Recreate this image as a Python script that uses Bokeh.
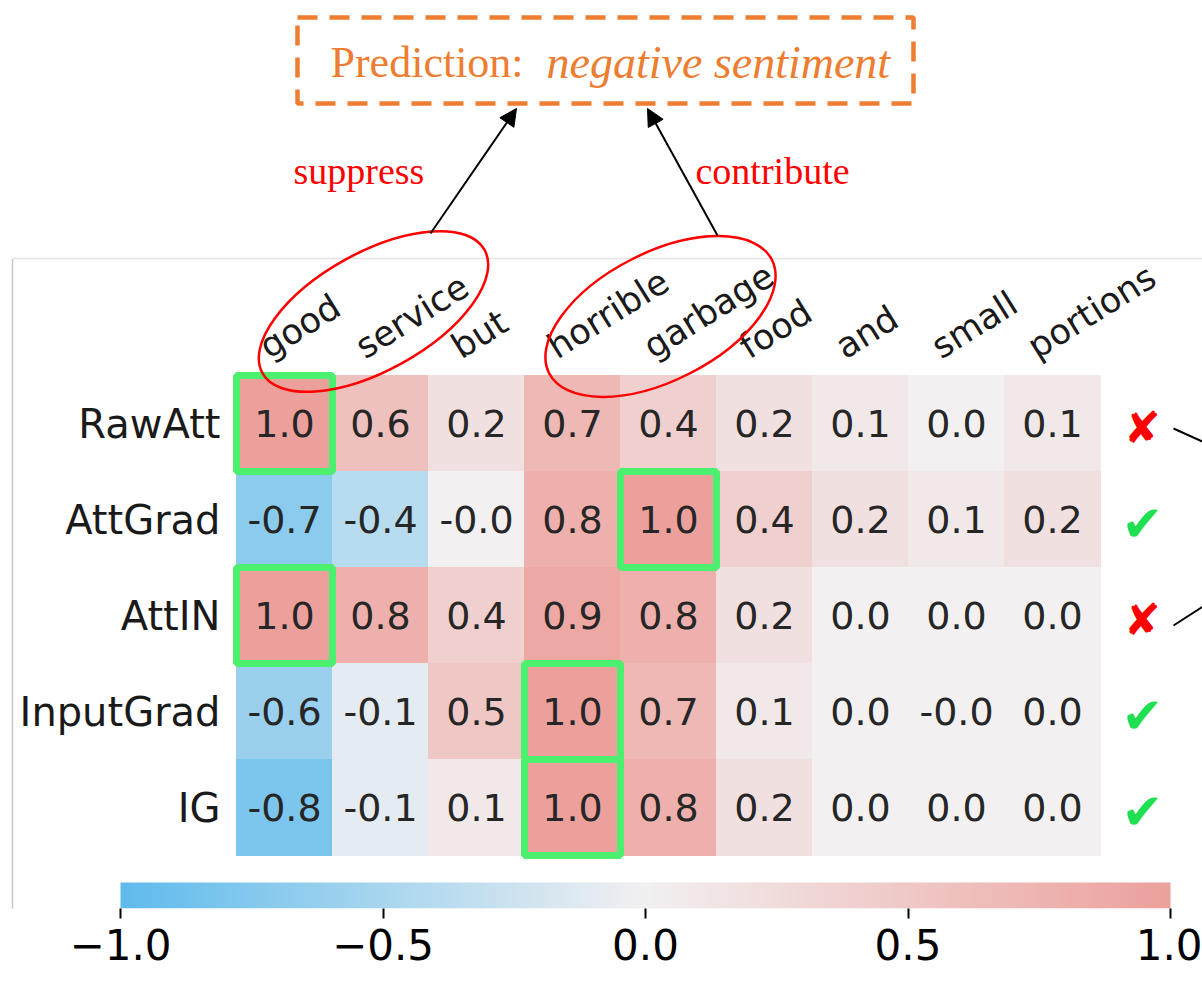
import math
import numpy as np
from bokeh.plotting import figure
from bokeh.models import (Range1d, LinearColorMapper, Arrow, NormalHead, LinearAxis,
                          FixedTicker, ColumnDataSource)
from bokeh.transform import transform
from bokeh.core.properties import value
from bokeh.embed import file_html
from bokeh.resources import INLINE

# ---------------- data ----------------
words = ["good", "service", "but", "horrible", "garbage", "food", "and", "small", "portions"]
methods = ["RawAtt", "AttGrad", "AttIN", "InputGrad", "IG"]
raw_att = [1.0, 0.6, 0.2, 0.7, 0.4, 0.2, 0.1, 0.0, 0.1]
att_grad = [-0.7, -0.4, -0.0, 0.8, 1.0, 0.4, 0.2, 0.1, 0.2]
att_in = [1.0, 0.8, 0.4, 0.9, 0.8, 0.2, 0.0, 0.0, 0.0]
input_grad = [-0.6, -0.1, 0.5, 1.0, 0.7, 0.1, 0.0, -0.0, 0.0]
ig = [-0.8, -0.1, 0.1, 1.0, 0.8, 0.2, 0.0, 0.0, 0.0]
verdicts = ["\u2718", "\u2714", "\u2718", "\u2714", "\u2714"]
cbar_ticks = [-1.0, -0.5, 0.0, 0.5, 1.0]
cbar_labels = ["\u22121.0", "\u22120.5", "0.0", "0.5", "1.0"]
pred_label = "Prediction:"
pred_value = "negative sentiment"
note_left = "suppress"
note_right = "contribute"

rows = [raw_att, att_grad, att_in, input_grad, ig]

# ---------------- colours ----------------
LOW = (95, 187, 236)
MID = (242, 240, 241)
HIGH = (236, 160, 156)


def mix(a, b, t):
    return tuple(int(round(a[i] + (b[i] - a[i]) * t)) for i in range(3))


palette = []
for k in range(256):
    v = -1 + 2 * k / 255
    c = mix(MID, LOW, -v) if v < 0 else mix(MID, HIGH, v)
    palette.append("#%02x%02x%02x" % c)
mapper = LinearColorMapper(palette=palette, low=-1, high=1)

ORANGE = "#ED7D31"
RED = "#FF0000"
GREEN_BOX = "#4CEF6E"
GREEN_MARK = "#1FE050"
FONT = "DejaVu Sans"
SERIF = "Liberation Serif"

# ---------------- layout helpers (page pixel -> data coords) ----------------
W, H = 1202, 984
FRAME_B = 908                 # bottom of the plotting frame (bottom of colour bar)
FX0, FX1 = 236, 1100          # heatmap extent in page pixels
FY0, FY1 = 375, 855
CW = (FX1 - FX0) / len(words)
CH = (FY1 - FY0) / len(methods)


def X(px):
    return (px - FX0) / CW


def Y(py):
    return (FY1 - py) / CH


CB0, CB1 = 120, 1170          # colour bar extent in page pixels
CBY0 = 882


def X2(px):
    return -1 + 2 * (px - CB0) / (CB1 - CB0)


# ---------------- figure ----------------
p = figure(width=W, height=H,
           x_range=Range1d(X(0), X(W)), y_range=Range1d(Y(FRAME_B), Y(0)),
           x_axis_location=None, y_axis_location=None,
           toolbar_location=None, output_backend="svg",
           min_border_left=0, min_border_right=0, min_border_top=0,
           min_border_bottom=H - FRAME_B)
p.extra_x_ranges = {"cbar": Range1d(X2(0), X2(W))}
p.outline_line_color = None
p.grid.visible = False
p.background_fill_color = "white"
p.border_fill_color = "white"

# panel border
p.segment(x0=[X(12), X(12)], y0=[Y(258), Y(258)], x1=[X(12), X(1300)], y1=[Y(1000), Y(258)],
          line_color=["#c8c8c8", "#e4e4e4"], line_width=1.5)

# heatmap cells
xs, ys, vals = [], [], []
for j, row in enumerate(rows):
    for i, v in enumerate(row):
        xs.append(i + 0.5)
        ys.append(len(methods) - j - 0.5)
        vals.append(v)
src = ColumnDataSource(dict(x=xs, y=ys, v=vals, t=[f"{v:.1f}" for v in vals]))
p.rect(x="x", y="y", width=1, height=1, source=src,
       fill_color=transform("v", mapper), line_color=transform("v", mapper), line_width=1)
p.text(x="x", y="y", text="t", source=src, text_align="center", text_baseline="middle",
       text_font=value(FONT), text_font_size=value("38px"), text_color="#262626")

# highlight the top cell of each row
hx = [int(np.argmax(r)) + 0.5 for r in rows]
hy = [len(methods) - j - 0.5 for j in range(len(methods))]
p.rect(x=hx, y=hy, width=1, height=1, fill_color=None,
       line_color=GREEN_BOX, line_width=7)

# row labels
p.text(x=[X(220)] * len(methods), y=hy, text=methods, text_align="right",
       text_baseline="middle", text_font=value(FONT), text_font_size=value("40px"),
       text_color="#1a1a1a")

# rotated word labels (baseline start just left of each column centre)
ANG = math.radians(32)
LBL_PX = 35
shift = 0.3 * LBL_PX           # compensate the renderer's baseline placement
bx = -16 - shift * math.sin(ANG)
by = 358 - shift * math.cos(ANG)
p.text(x=[i + 0.5 + bx / CW for i in range(len(words))], y=[Y(by)] * len(words),
       text=words, angle=ANG, text_align="left", text_baseline="alphabetic",
       text_font=value(FONT), text_font_size=value(f"{LBL_PX}px"), text_color="#1a1a1a")

# verdict marks on the right
mark_col = [RED if mk == "\u2718" else GREEN_MARK for mk in verdicts]
mark_size = ["44px" if mk == "\u2718" else "50px" for mk in verdicts]
p.text(x=[X(1142)] * len(verdicts), y=hy, text=verdicts, text_align="center",
       text_baseline="middle", text_font=value(FONT), text_font_size=mark_size,
       text_color=mark_col, y_offset=4)
p.segment(x0=[X(1173), X(1173)], y0=[Y(428), Y(625)], x1=[X(1215), X(1215)],
          y1=[Y(447), Y(598)], line_color="black", line_width=2)

# prediction box
bx0, bx1, by0, by1 = 297, 913, 17, 103
p.line(x=[X(bx0), X(bx1), X(bx1), X(bx0), X(bx0)],
       y=[Y(by0), Y(by0), Y(by1), Y(by1), Y(by0)],
       line_color=ORANGE, line_width=4.5, line_dash="20 12")
p.text(x=[X(330)], y=[Y(77 - 0.33 * 44)], text=[pred_label], text_align="left",
       text_baseline="alphabetic", text_font=value(SERIF), text_font_size=value("44px"),
       text_color=ORANGE)
p.text(x=[X(546)], y=[Y(77 - 0.33 * 46)], text=[pred_value], text_align="left",
       text_baseline="alphabetic", text_font=value(SERIF), text_font_size=value("46px"),
       text_font_style="italic", text_color=ORANGE)

# notes
p.text(x=[X(293), X(695)], y=[Y(183 - 0.33 * 38)] * 2, text=[note_left, note_right],
       text_align="left", text_baseline="alphabetic", text_font=value(SERIF),
       text_font_size=value("38px"), text_color=RED)

# arrows
for (sx, sy, ex, ey) in [(430, 233, 516, 108), (717, 235, 647, 108)]:
    p.add_layout(Arrow(end=NormalHead(size=17, fill_color="black", line_color="black"),
                       x_start=X(sx), y_start=Y(sy), x_end=X(ex), y_end=Y(ey),
                       line_color="black", line_width=2))

# ellipses
for (cx, cy, a, b, deg) in [(373, 311, 127, 59, 29), (660, 316, 125, 64, 27)]:
    p.ellipse(x=X(cx), y=Y(cy), width=2 * a / CW, height=2 * b / CH,
              angle=math.radians(deg), fill_color=None, line_color=RED, line_width=2.5)

# colour bar
p.image(image=[np.linspace(-1, 1, 512).reshape(1, -1)], x=-1, y=Y(FRAME_B), dw=2,
        dh=(FRAME_B - CBY0) / CH, color_mapper=mapper, x_range_name="cbar")
cax = LinearAxis(x_range_name="cbar", ticker=FixedTicker(ticks=cbar_ticks))
cax.major_label_overrides = {t: s for t, s in zip(cbar_ticks, cbar_labels)}
cax.axis_line_color = None
cax.minor_tick_line_color = None
cax.major_tick_in = 0
cax.major_tick_out = 10
cax.major_tick_line_width = 2
cax.major_tick_line_color = "black"
cax.major_label_text_font = FONT
cax.major_label_text_font_size = "42px"
cax.major_label_text_color = "black"
cax.major_label_standoff = 10
p.add_layout(cax, "below")

open("out.html", "w").write(file_html(p, INLINE))
